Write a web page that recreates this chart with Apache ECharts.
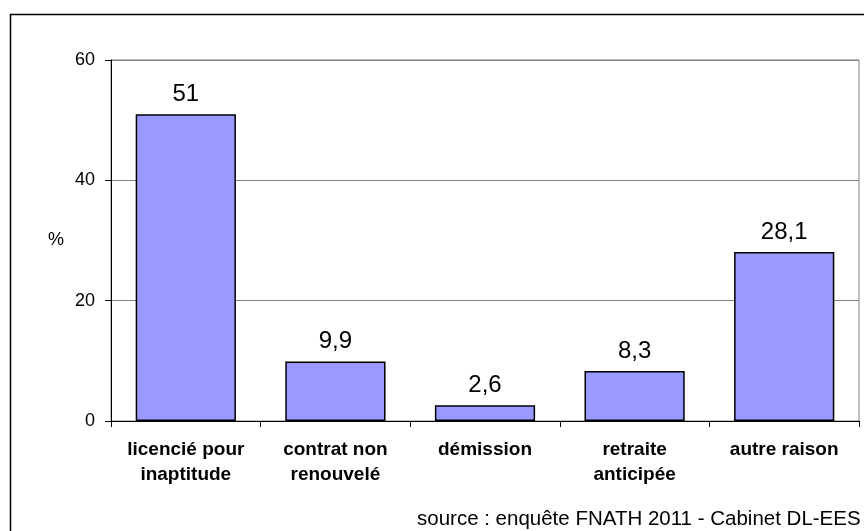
<!DOCTYPE html>
<html>
<head>
<meta charset="utf-8">
<script src="https://cdn.jsdelivr.net/npm/echarts@6/dist/echarts.min.js"></script>
<style>
  html, body { margin: 0; padding: 0; background: #fff; }
  #main { width: 864px; height: 531px; }
</style>
</head>
<body>
<div id="main"></div>
<script>
const categories = ['licencié pour\ninaptitude', 'contrat non\nrenouvelé', 'démission', 'retraite\nanticipée', 'autre raison'];
const values = [51, 9.9, 2.6, 8.3, 28.1];
const yTicks = [0, 20, 40, 60];
const sourceText = 'source : enquête FNATH 2011 - Cabinet DL-EES';

const font = 'Liberation Sans, Arial, sans-serif';

const chart = echarts.init(document.getElementById('main'));
chart.setOption({
    backgroundColor: '#fff',
    animation: false,
    textStyle: { fontFamily: font },
    grid: {
        left: 111,
        right: 5,
        top: 60,
        bottom: 110,
        show: true,
        borderColor: '#808080',
        borderWidth: 1
    },
    xAxis: {
        type: 'category',
        data: categories,
        axisLine: { lineStyle: { color: '#000', width: 1 } },
        axisTick: { show: true, length: 6, lineStyle: { color: '#000' } },
        axisLabel: {
            margin: 16,
            color: '#000',
            fontSize: 19,
            fontWeight: 'bold',
            fontFamily: font,
            lineHeight: 25,
            interval: 0
        }
    },
    yAxis: {
        type: 'value',
        min: yTicks[0],
        max: yTicks[yTicks.length - 1],
        interval: 20,
        name: '%',
        nameLocation: 'middle',
        nameRotate: 0,
        nameGap: 47,
        nameTextStyle: { color: '#000', fontSize: 18, fontFamily: font },
        axisLine: { show: true, lineStyle: { color: '#000', width: 1 } },
        axisTick: { show: true, length: 6, lineStyle: { color: '#000' } },
        axisLabel: { margin: 16, color: '#000', fontSize: 18, fontFamily: font },
        splitLine: { show: true, lineStyle: { color: '#808080', width: 1 } }
    },
    series: [{
        type: 'bar',
        data: values,
        barCategoryGap: '33%',
        itemStyle: { color: '#9999FF', borderColor: '#000', borderWidth: 1.5 },
        label: {
            show: true,
            position: 'top',
            distance: 8,
            color: '#000',
            fontSize: 24,
            fontFamily: font,
            formatter: p => String(p.value).replace('.', ',')
        }
    }],
    graphic: [
        {
            type: 'rect',
            shape: { x: 10.5, y: 14.5, width: 900, height: 600 },
            style: { fill: null, stroke: '#000', lineWidth: 1.5 },
            silent: true
        },
        {
            type: 'text',
            left: 417,
            top: 509,
            style: { text: sourceText, fontSize: 20.5, fontFamily: font, fill: '#000' }
        }
    ]
});
</script>
</body>
</html>
